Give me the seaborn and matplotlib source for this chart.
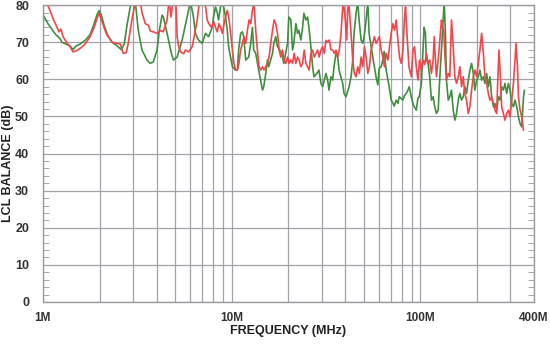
import numpy as np
import pandas as pd
import matplotlib
matplotlib.use("Agg")
import matplotlib.pyplot as plt
import seaborn as sns
from matplotlib.ticker import FixedLocator, MultipleLocator, NullFormatter

# LCL balance sweep (MHz, dB)
green_freq = [1.000, 1.025, 1.063, 1.116, 1.172, 1.232, 1.262, 1.326, 1.392, 1.444, 1.498, 1.573, 1.673, 1.778,
              1.868, 1.937, 1.985, 2.035, 2.111, 2.217, 2.328, 2.476, 2.600, 2.697, 2.798, 2.902, 2.974, 3.086,
              3.201, 3.349, 3.561, 3.708, 3.846, 4.025, 4.139, 4.279, 4.347, 4.548, 4.794, 4.913, 5.141, 5.466,
              5.810, 6.049, 6.276, 6.432, 6.672, 6.981, 7.269, 7.541, 7.891, 8.017, 8.216, 8.389, 8.523, 8.734,
              8.951, 9.286, 9.481, 9.633, 10.09, 10.49, 10.72, 10.89, 11.16, 11.40, 11.58, 11.87, 12.31, 12.62,
              12.88, 13.09, 13.41, 13.91, 14.56, 14.79, 15.16, 15.47, 15.72, 16.46, 16.72, 17.13, 17.49, 18.43,
              18.89, 19.77, 20.09, 20.59, 21.01, 21.35, 21.88, 22.34, 22.70, 23.26, 23.76, 24.14, 24.74, 25.26,
              25.66, 26.30, 26.85, 27.28, 28.30, 29.00, 29.72, 30.34, 31.59, 32.26, 32.78, 33.59, 34.30, 34.85,
              35.71, 36.47, 37.05, 38.76, 39.38, 40.36, 41.87, 42.91, 43.81, 44.51, 45.61, 46.57, 47.32, 48.49,
              49.52, 50.31, 51.56, 52.64, 53.48, 54.81, 55.96, 58.27, 59.50, 60.45, 61.95, 63.25, 64.26, 65.85,
              68.32, 70.01, 71.49, 72.63, 74.43, 75.99, 77.21, 80.80, 82.09, 84.13, 85.90, 87.27, 89.43, 91.32,
              92.78, 95.08, 97.08, 98.63, 101.2, 103.4, 104.6, 106.3, 107.6, 109.8, 112.0, 114.4, 116.8, 119.1,
              121.6, 124.2, 126.2, 129.3, 132.0, 133.6, 135.7, 137.4, 140.4, 143.1, 146.1, 149.2, 152.2, 155.4,
              158.7, 161.8, 165.2, 168.6, 171.9, 175.5, 179.3, 182.9, 186.7, 190.6, 194.4, 198.5, 202.7, 206.7,
              211.0, 215.5, 219.7, 224.3, 229.0, 233.6, 238.5, 243.5, 248.3, 253.5, 258.9, 264.0, 269.5, 275.2,
              280.6, 286.5, 292.6, 298.4, 304.7, 311.0, 317.2, 323.8, 330.7, 337.2, 344.3, 351.6, 355.9]
green_db = [77.5, 76.5, 75, 73.5, 72, 71, 70, 69.5, 69, 68, 69, 69.5, 70.5, 72,
            75, 77.5, 78.5, 77.5, 74.5, 71.5, 70, 69, 68, 69.5, 75, 79.5, 82, 81,
            73.2, 67.9, 65.2, 64.3, 64.7, 67.9, 73.2, 77.3, 76.8, 72.4, 67, 65.2, 66, 70.6,
            76.8, 81, 76.8, 72.4, 70.6, 69.7, 72.4, 71.5, 74, 76.8, 79.5, 78, 76, 79.5,
            81, 76.8, 73.2, 68.8, 63.4, 62.5, 62.5, 67.9, 72.4, 72.8, 71.5, 65.2, 66, 69.7,
            74, 67.9, 67, 62.5, 57.1, 58, 61.6, 65.2, 63.4, 67, 69.7, 71.5, 68.8, 67,
            64.3, 69.7, 76.8, 76, 67.9, 69.7, 75, 72.4, 73.2, 70.6, 74, 77.8, 76, 76.8,
            74, 68.8, 63.4, 60.7, 61.6, 62.5, 58.9, 58, 61.6, 59.8, 57.1, 60.7, 59.8, 63.4,
            67, 66, 62.5, 58.9, 56.2, 55.3, 58, 60.7, 65.2, 72.4, 77.8, 81, 76, 70.6,
            69.7, 71.5, 76, 81, 72.4, 68.8, 66, 60.5, 58.5, 63, 63.4, 65.2, 67.5, 62.5,
            58, 54.4, 53.6, 52.8, 54.4, 53.5, 55.3, 54.4, 55.5, 56.2, 57.1, 58, 55.3, 53.5,
            52.6, 51.7, 55, 55.3, 58.9, 68.8, 74, 72.4, 65.2, 64.3, 60.7, 54.4, 55.3, 52.6,
            50.8, 51.7, 58.9, 67.9, 76, 81, 72.4, 59.8, 54.4, 55.3, 57.1, 51.7, 49, 50.8,
            54.4, 56.2, 54.4, 55.3, 58, 56.2, 59.8, 62.5, 64.3, 61.6, 57.1, 59.8, 60.7, 62.5,
            59.8, 60.7, 58.9, 61.6, 58, 60.7, 55.3, 52.6, 53.5, 51.7, 55.3, 54.4, 58, 57.1,
            58.9, 56.2, 58.9, 57.1, 53.5, 52.6, 54.4, 52.6, 49.9, 48.1, 47.2, 55.3, 57.1]

red_freq = [1.000, 1.050, 1.089, 1.130, 1.187, 1.217, 1.247, 1.278, 1.326, 1.392, 1.444, 1.516, 1.573, 1.673,
            1.778, 1.868, 1.937, 1.985, 2.060, 2.163, 2.328, 2.476, 2.568, 2.664, 2.764, 2.832, 2.938, 3.048,
            3.162, 3.280, 3.349, 3.487, 3.618, 3.708, 3.846, 4.025, 4.190, 4.347, 4.548, 4.621, 4.678, 4.776,
            4.853, 4.973, 5.065, 5.141, 5.242, 5.353, 5.574, 5.691, 5.925, 6.177, 6.376, 6.567, 6.697, 6.837,
            7.180, 7.422, 7.569, 7.823, 8.047, 8.216, 8.389, 8.555, 8.734, 8.918, 9.206, 9.481, 9.669, 9.872,
            10.09, 10.28, 10.49, 10.72, 10.93, 11.16, 11.40, 11.62, 11.87, 12.12, 12.36, 12.62, 12.88, 13.14,
            13.41, 13.69, 13.96, 14.26, 14.56, 14.84, 15.16, 15.47, 15.78, 16.11, 16.46, 16.78, 17.13, 17.49,
            17.84, 18.21, 18.59, 18.96, 19.36, 19.77, 20.16, 20.59, 21.01, 21.43, 21.88, 22.34, 22.78, 23.26,
            23.76, 24.23, 24.74, 25.26, 25.75, 26.30, 26.85, 27.38, 27.96, 28.54, 29.11, 29.72, 30.34, 30.94,
            31.59, 32.26, 32.90, 33.59, 34.30, 34.98, 35.71, 36.47, 37.19, 37.97, 38.76, 39.04, 40.01, 40.70,
            41.21, 41.72, 42.91, 43.81, 44.67, 45.61, 46.57, 47.50, 48.49, 49.52, 50.50, 51.56, 52.64, 53.68,
            54.81, 55.96, 57.07, 58.27, 59.50, 60.67, 61.95, 63.25, 64.50, 65.85, 67.24, 68.57, 70.01, 71.49,
            72.90, 74.43, 75.99, 77.50, 79.12, 80.80, 82.39, 83.40, 84.85, 86.95, 89.43, 91.32, 93.12, 95.08,
            97.08, 98.99, 101.2, 103.4, 105.4, 107.6, 109.8, 112.0, 114.4, 116.8, 118.3, 120.2, 121.6, 124.2,
            126.7, 129.3, 130.9, 133.0, 134.6, 137.4, 140.4, 143.1, 146.1, 149.2, 152.2, 155.4, 158.7, 161.8,
            165.2, 168.6, 171.9, 175.5, 179.3, 182.9, 186.7, 190.6, 194.4, 198.5, 202.7, 206.7, 211.0, 215.5,
            219.7, 224.3, 229.0, 233.6, 238.5, 243.5, 248.3, 253.5, 256.6, 260.8, 265.3, 269.5, 275.2, 280.6,
            286.5, 292.6, 298.4, 304.7, 311.0, 317.2, 321.1, 326.7, 330.7, 337.2, 344.3, 351.6]
red_db = [81, 80.5, 78.6, 76.5, 74, 72.8, 73.5, 71.5, 70.2, 68.8, 67.4, 67.8, 68.3, 69.5,
          71.5, 74, 76.5, 77.8, 75.5, 72.4, 70, 69.7, 69.5, 67, 67.2, 69.7, 75, 79.5,
          82, 81, 78, 75, 74.6, 73, 72.8, 72.4, 73.2, 72.8, 76, 79.5, 81, 76.8,
          80, 82, 81, 71.5, 68.8, 67.4, 66.9, 67.9, 67.4, 68.8, 72.4, 76, 79.5, 82,
          82, 76, 75, 74, 75.5, 74, 72.8, 75, 74, 72.4, 76, 78.6, 76.5, 72.4,
          67.9, 64.3, 62.5, 62.5, 64.3, 67.9, 69.7, 71.5, 69.7, 73.2, 76, 75, 78.6, 80.4,
          73.2, 67.9, 63.4, 62.5, 63.4, 62.5, 63.4, 64.3, 66, 69.7, 73.2, 76, 75, 72.4,
          67.9, 66, 67.9, 65.2, 64.3, 66, 64.3, 65.2, 64.3, 67, 64.3, 66, 65.2, 63.4,
          64.3, 67.9, 64.3, 63.4, 62.5, 67, 67.9, 66, 67, 67.9, 66, 67.9, 68.8, 67,
          70.5, 70, 70.6, 68, 67.9, 67, 67.9, 66, 67.9, 72.4, 79.5, 81, 76, 70.6,
          78.6, 81, 72.4, 65.2, 61.6, 60.7, 63.4, 61.6, 66, 63.4, 68.8, 66, 61.6, 63.4,
          67.9, 69.7, 71.5, 69.7, 70.6, 71.5, 67.9, 66, 63.4, 67, 65.2, 68.8, 72.4, 75,
          73.2, 76, 70.6, 66, 64.3, 67.9, 76.8, 79.5, 72.4, 63.4, 60.7, 67.9, 68.8, 63.4,
          59.8, 65.2, 62.5, 65.2, 64, 67, 64.3, 65.2, 61.6, 65.2, 71.5, 65.2, 60.7, 65.2,
          70.6, 76, 74, 73.2, 67, 59.8, 61.6, 60.7, 76, 68.8, 60.7, 58.9, 60.7, 63.4,
          58, 60.7, 56.2, 54.4, 50.8, 52.6, 57.1, 60.7, 62.5, 60.7, 64.3, 67.9, 72.4, 67,
          60.7, 58.9, 56.2, 54.4, 55.3, 53.5, 51.7, 50.8, 58.9, 67.9, 60.7, 52.6, 50.8, 49,
          50.8, 51.7, 49.9, 54.4, 58.9, 65.2, 69.7, 63.4, 55.3, 51.7, 49.9, 46.3]

x_ticks = [1, 10, 100, 400]
x_labels = ["1M", "10M", "100M", "400M"]
y_ticks = [0, 10, 20, 30, 40, 50, 60, 70, 80]

sns.set_style("white")
plt.rcParams['font.family'] = ['Liberation Sans', 'DejaVu Sans']

green_df = pd.DataFrame({"freq": green_freq, "db": green_db})
red_df = pd.DataFrame({"freq": red_freq, "db": red_db})

fig = plt.figure(figsize=(5.5, 3.53), dpi=100)
ax = fig.add_axes([0.078, 0.1445, 0.893, 0.841])

ax.set_xscale("log")
ax.set_xlim(1, 400)
ax.set_ylim(0, 80)

grid_col = "#a2a2aa"
minor_x = [m * d for d in (1, 10, 100) for m in range(2, 10) if m * d < 400]
ax.xaxis.set_major_locator(FixedLocator(x_ticks))
ax.xaxis.set_minor_locator(FixedLocator(minor_x))
ax.xaxis.set_minor_formatter(NullFormatter())
ax.set_xticklabels(x_labels)
ax.set_yticks(y_ticks)
ax.yaxis.set_minor_locator(MultipleLocator(2))

ax.grid(True, which="major", axis="both", color=grid_col, lw=0.9)
ax.grid(True, which="minor", axis="x", color=grid_col, lw=0.9)
ax.set_axisbelow(True)

sns.lineplot(data=green_df, x="freq", y="db", ax=ax, color="#3f8f3f", lw=1.2, estimator=None)
sns.lineplot(data=red_df, x="freq", y="db", ax=ax, color="#f0474c", lw=1.2, estimator=None)

ax.tick_params(axis="both", which="major", length=0, labelcolor="#333333")
ax.tick_params(axis="x", which="major", pad=7, labelsize=8.5)
ax.tick_params(axis="y", which="major", pad=10, labelsize=9)
ax.tick_params(axis="x", which="minor", length=0)
ax.tick_params(axis="y", which="minor", direction="in", length=4, color="#999999",
               left=True, right=True)
for lab in ax.get_xticklabels() + ax.get_yticklabels():
    lab.set_fontweight("bold")

for s in ax.spines.values():
    s.set_color("#9a9aa2")
    s.set_linewidth(1.0)

ax.set_xlabel("FREQUENCY (MHz)", fontsize=9, fontweight="bold", color="#222222", labelpad=1)
ax.set_ylabel("LCL BALANCE (dB)", fontsize=9, fontweight="bold", color="#222222")
ax.yaxis.set_label_coords(-0.059, 0.468)

fig.savefig("out.png", dpi=100)
